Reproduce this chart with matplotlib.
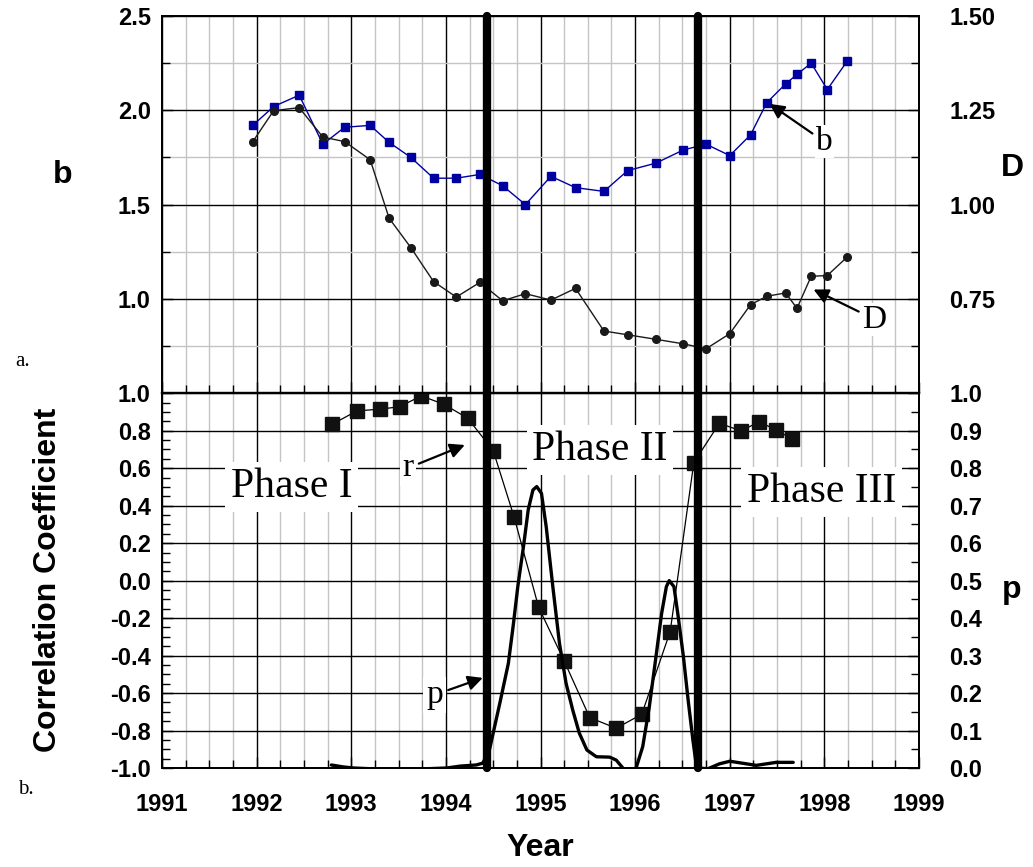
"""Seismicity parameters b, D and the correlation r / p between them, 1991-1999."""

import matplotlib
import matplotlib.pyplot as plt
from matplotlib.ticker import FixedLocator, FormatStrFormatter, MultipleLocator, NullFormatter

matplotlib.use("Agg")

# Panel a: b-value (left axis) and fractal dimension D (right axis)
years_a = [1991.96, 1992.18, 1992.45, 1992.70, 1992.93, 1993.20, 1993.40, 1993.63,
           1993.87, 1994.11, 1994.36, 1994.60, 1994.84, 1995.11, 1995.37, 1995.67,
           1995.92, 1996.22, 1996.51, 1996.75, 1997.00, 1997.22, 1997.39, 1997.59,
           1997.71, 1997.86, 1998.03, 1998.24]
b_values = [1.92, 2.02, 2.08, 1.82, 1.91, 1.92, 1.83, 1.75, 1.64, 1.64, 1.66, 1.60,
            1.50, 1.65, 1.59, 1.57, 1.68, 1.72, 1.79, 1.82, 1.76, 1.87, 2.04, 2.14,
            2.19, 2.25, 2.11, 2.26]
d_values = [1.167, 1.249, 1.257, 1.179, 1.167, 1.119, 0.964, 0.886, 0.796, 0.755,
            0.794, 0.745, 0.764, 0.747, 0.778, 0.665, 0.655, 0.643, 0.631, 0.618,
            0.658, 0.735, 0.757, 0.766, 0.725, 0.810, 0.812, 0.861]

# Panel b: correlation coefficient r and its probability p
years_r = [1992.80, 1993.06, 1993.30, 1993.51, 1993.74, 1993.98, 1994.23, 1994.50,
           1994.72, 1994.98, 1995.25, 1995.52, 1995.80, 1996.07, 1996.37, 1996.62,
           1996.89, 1997.12, 1997.31, 1997.49, 1997.66]
r_values = [0.835, 0.906, 0.915, 0.928, 0.986, 0.941, 0.867, 0.694, 0.341, -0.142,
            -0.429, -0.731, -0.788, -0.713, -0.272, 0.630, 0.840, 0.799, 0.848, 0.804,
            0.756]

years_p = [1992.79, 1992.91, 1993.02, 1993.48, 1994.01, 1994.15, 1994.32, 1994.39,
           1994.46, 1994.57, 1994.66, 1994.71, 1994.76, 1994.82, 1994.87, 1994.92,
           1994.96, 1995.01, 1995.06, 1995.13, 1995.20, 1995.27, 1995.34, 1995.41,
           1995.49, 1995.59, 1995.73, 1995.80, 1995.87, 1995.94, 1996.01, 1996.08,
           1996.15, 1996.22, 1996.28, 1996.33, 1996.36, 1996.41, 1996.45, 1996.51,
           1996.56, 1996.61, 1996.65, 1996.77, 1996.89, 1997.00, 1997.28, 1997.49,
           1997.67]
p_values = [0.008, 0.003, 0.000, -0.005, 0.000, 0.005, 0.008, 0.013,
            0.048, 0.173, 0.279, 0.377, 0.484, 0.591, 0.689, 0.742,
            0.751, 0.733, 0.644, 0.484, 0.333, 0.226, 0.155, 0.093,
            0.048, 0.030, 0.029, 0.021, 0.000, -0.020, 0.000, 0.057,
            0.164, 0.297, 0.413, 0.484, 0.500, 0.484, 0.413, 0.297,
            0.181, 0.075, 0.000, -0.002, 0.011, 0.018, 0.007, 0.015,
            0.015]

phase_bounds = [1994.43, 1996.66]

SANS = "Liberation Sans"
SERIF = "Liberation Serif"
plt.rcParams["axes.unicode_minus"] = False
plt.rcParams["font.family"] = SANS

fig = plt.figure(figsize=(10.33, 8.67), dpi=100)
ax1 = fig.add_axes([0.1568, 0.5464, 0.7329, 0.4352])
ax2 = fig.add_axes([0.1568, 0.1142, 0.7329, 0.4322])
ax1r = ax1.twinx()
ax2r = ax2.twinx()

grey = "#c4c4c4"

for ax in (ax1, ax2):
    ax.set_xlim(1991, 1999)
    ax.xaxis.set_major_locator(MultipleLocator(1))
    ax.xaxis.set_minor_locator(MultipleLocator(0.25))
    ax.grid(True, which="major", axis="x", color="black", linewidth=1.0, zorder=0)
    ax.grid(True, which="minor", axis="x", color=grey, linewidth=1.0, zorder=0)
    ax.set_axisbelow(True)

# --- Panel a ---
ax1.set_ylim(0.5, 2.5)
ax1r.set_ylim(0.5, 1.5)
ax1.yaxis.set_major_locator(FixedLocator([1.0, 1.5, 2.0, 2.5]))
ax1.yaxis.set_minor_locator(FixedLocator([0.75, 1.25, 1.75, 2.25]))
ax1.grid(True, which="major", axis="y", color="black", linewidth=1.0)
ax1.grid(True, which="minor", axis="y", color=grey, linewidth=1.0)
ax1.yaxis.set_major_formatter(FormatStrFormatter("%.1f"))
ax1r.yaxis.set_major_locator(FixedLocator([0.75, 1.0, 1.25, 1.5]))
ax1r.yaxis.set_minor_locator(FixedLocator([0.625, 0.875, 1.125, 1.375]))
ax1r.yaxis.set_major_formatter(FormatStrFormatter("%.2f"))
ax1.xaxis.set_major_formatter(NullFormatter())

ax1.plot(years_a, b_values, color="#0000a0", linewidth=1.0, marker="s",
         markersize=6, zorder=3)
ax1r.plot(years_a, d_values, color="#1a1a1a", linewidth=1.0, marker="o",
          markersize=5.5, zorder=3)

ax1.set_ylabel("b", fontsize=23, fontweight="bold", rotation=0, va="center")
ax1.yaxis.set_label_coords(-0.131, 0.579)
ax1r.set_ylabel("D", fontsize=23, fontweight="bold", rotation=0, va="center")
ax1r.yaxis.set_label_coords(1.123, 0.597)

arrow = dict(arrowstyle="-|>", color="black", linewidth=1.6, mutation_scale=22,
             shrinkA=2, shrinkB=0)
ax1.annotate("b", xy=(1997.42, 2.034), xytext=(1998.0, 1.833), fontsize=24,
             family=SERIF, ha="center", va="center", arrowprops=arrow,
             bbox=dict(facecolor="white", edgecolor="none", pad=1), zorder=6)
ax1.annotate("D", xy=(1997.885, 1.05), xytext=(1998.53, 0.892), fontsize=24,
             family=SERIF, ha="center", va="center", arrowprops=arrow,
             bbox=dict(facecolor="white", edgecolor="none", pad=1), zorder=6)

# --- Panel b ---
ax2.set_ylim(-1.0, 1.0)
ax2r.set_ylim(0.0, 1.0)
ax2.yaxis.set_major_locator(MultipleLocator(0.2))
ax2.yaxis.set_minor_locator(MultipleLocator(0.05))
ax2.yaxis.set_major_formatter(FormatStrFormatter("%.1f"))
ax2.grid(True, which="major", axis="y", color="black", linewidth=1.0)
ax2r.yaxis.set_major_locator(MultipleLocator(0.1))
ax2r.yaxis.set_minor_locator(MultipleLocator(0.05))
ax2r.yaxis.set_major_formatter(FormatStrFormatter("%.1f"))

ax2.plot(years_r, r_values, color="black", linewidth=0.9, marker="s",
         markersize=10, markerfacecolor="#111111", markeredgecolor="#111111", zorder=4)
ax2r.plot(years_p, p_values, color="black", linewidth=2.4, zorder=3,
          solid_joinstyle="round", solid_capstyle="round")

ax2.set_ylabel("Correlation Coefficient", fontsize=23, fontweight="bold")
ax2.yaxis.set_label_coords(-0.131, 0.502)
ax2r.set_ylabel("p", fontsize=23, fontweight="bold", rotation=0, va="center")
ax2r.yaxis.set_label_coords(1.123, 0.475)
ax2.set_xlabel("Year", fontsize=23, fontweight="bold", va="center")
ax2.xaxis.set_label_coords(0.5, -0.2135)

phase_box = dict(facecolor="white", edgecolor="none", pad=4)
ax2.text(1992.37, 0.50, "Phase I", fontsize=30, family=SERIF, ha="center",
         va="center", bbox=phase_box, zorder=5)
ax2.text(1995.63, 0.697, "Phase II", fontsize=30, family=SERIF, ha="center",
         va="center", bbox=phase_box, zorder=5)
ax2.text(1997.97, 0.473, "Phase III", fontsize=30, family=SERIF, ha="center",
         va="center", bbox=phase_box, zorder=5)

ax2.annotate("r", xy=(1994.2, 0.724), xytext=(1993.6, 0.601), fontsize=24,
             family=SERIF, ha="center", va="center", arrowprops=arrow,
             bbox=dict(facecolor="white", edgecolor="none", pad=2), zorder=6)
ax2.annotate("p", xy=(1994.39, -0.519), xytext=(1993.88, -0.61), fontsize=24,
             family=SERIF, ha="center", va="center", arrowprops=arrow,
             bbox=dict(facecolor="white", edgecolor="none", pad=2), zorder=6)

# Phase boundaries, drawn through both panels
for ax in (ax1r, ax2r):
    for x in phase_bounds:
        ax.axvline(x, color="black", linewidth=6, solid_capstyle="round",
                   clip_on=False, zorder=8)

# Ticks and spines
for ax in (ax1, ax2, ax1r, ax2r):
    ax.tick_params(which="both", direction="in", top=False)
    ax.tick_params(which="major", length=8, width=1.0)
    ax.tick_params(which="minor", length=6, width=1.0)
    for s in ax.spines.values():
        s.set_linewidth(1.3)
    for lbl in ax.get_yticklabels() + ax.get_xticklabels():
        lbl.set_fontsize(17)
        lbl.set_fontweight("bold")
ax1.spines["bottom"].set_linewidth(1.6)
ax2.spines["top"].set_linewidth(1.6)

ax1.tick_params(axis="y", pad=8)
ax2.tick_params(axis="y", pad=8)
ax1r.tick_params(axis="y", pad=22)
ax2r.tick_params(axis="y", pad=22)
ax2.tick_params(axis="x", pad=18)
ax1r.tick_params(axis="x", which="both", bottom=False)
ax2r.tick_params(axis="x", which="both", bottom=False)

fig.text(15 / 1033, 1 - 362 / 867, "a.", fontsize=15, family=SERIF, ha="left", va="center")
fig.text(18 / 1033, 1 - 790 / 867, "b.", fontsize=15, family=SERIF, ha="left", va="center")

fig.savefig("out.png", dpi=100)
plt.close(fig)
